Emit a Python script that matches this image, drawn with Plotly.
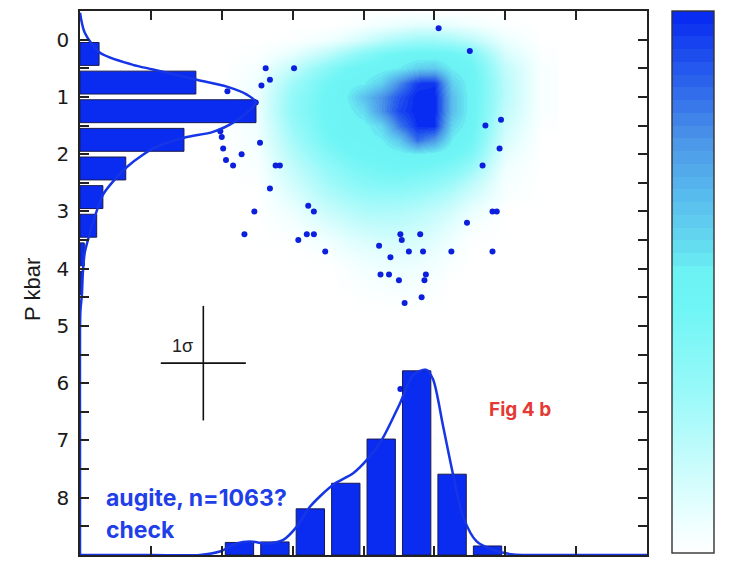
import plotly.graph_objects as go

# ---------------- data ----------------
# Outlier analyses (T in deg C, P in kbar)
pt_T = [1203, 1225, 1081, 1101, 1084, 1078, 1054, 1074, 1247, 1236, 1049, 1050,
        1077, 1051, 1246, 1064, 1053, 1058, 1088, 1091, 1234, 1084, 1111, 1115,
        1073, 1241, 1244, 1223, 1066, 1110, 1115, 1104, 1176, 1177, 1190, 1161,
        1123, 1182, 1192, 1212, 1241, 1169, 1162, 1168, 1194, 1175, 1193, 1191,
        1179, 1176, 1193]
pt_P = [-0.2, 0.2, 0.5, 0.5, 0.7, 0.8, 0.9, 1.1, 1.4, 1.5, 1.6, 1.7,
        1.8, 1.9, 1.9, 2.0, 2.1, 2.2, 2.2, 2.2, 2.2, 2.6, 2.9, 3.0,
        3.0, 3.0, 3.0, 3.2, 3.4, 3.4, 3.4, 3.5, 3.4, 3.5, 3.4, 3.6,
        3.7, 3.7, 3.7, 3.7, 3.7, 3.8, 4.1, 4.1, 4.1, 4.2, 4.2, 4.5,
        4.6, 6.1, 5.8]

# Kernel density of all analyses (normalised), grid in T and P
dens_T = [1050, 1075, 1100, 1125, 1137.5, 1150, 1162.5, 1175, 1187.5, 1200,
          1212.5, 1225, 1250, 1275]
dens_P = [-0.5, -0.25, 0.0, 0.25, 0.5, 0.75, 1.0, 1.25, 1.5, 1.75, 2.0, 2.25,
          2.5, 2.75, 3.0, 3.25, 3.5, 3.75, 4.0, 4.25, 4.5, 4.75]
dens_z = [
    [0, 0, 0, 0, 0, 0, 0, 0, 0, 0, 0, 0, 0, 0],
    [0, 0, 0, 0, 0.01, 0.03, 0.05, 0.07, 0.09, 0.09, 0.07, 0.05, 0.01, 0],
    [0, 0, 0.01, 0.05, 0.09, 0.14, 0.20, 0.25, 0.28, 0.28, 0.25, 0.20, 0.06, 0],
    [0, 0.01, 0.08, 0.20, 0.28, 0.36, 0.42, 0.46, 0.48, 0.48, 0.46, 0.40, 0.12, 0.01],
    [0, 0.03, 0.18, 0.36, 0.44, 0.48, 0.50, 0.53, 0.60, 0.62, 0.52, 0.48, 0.18, 0.02],
    [0, 0.05, 0.28, 0.45, 0.50, 0.52, 0.60, 0.78, 0.95, 0.97, 0.60, 0.50, 0.20, 0.02],
    [0, 0.06, 0.32, 0.47, 0.52, 0.64, 0.76, 0.90, 1.00, 1.00, 0.65, 0.50, 0.20, 0.02],
    [0, 0.06, 0.33, 0.47, 0.50, 0.57, 0.76, 0.93, 1.00, 1.00, 0.65, 0.50, 0.18, 0.02],
    [0, 0.05, 0.30, 0.46, 0.50, 0.50, 0.58, 0.82, 0.98, 0.98, 0.58, 0.49, 0.15, 0.01],
    [0, 0.04, 0.26, 0.44, 0.48, 0.50, 0.52, 0.62, 0.85, 0.75, 0.52, 0.46, 0.12, 0],
    [0, 0.03, 0.22, 0.38, 0.44, 0.47, 0.48, 0.50, 0.52, 0.50, 0.46, 0.40, 0.08, 0],
    [0, 0.02, 0.18, 0.32, 0.38, 0.42, 0.44, 0.45, 0.44, 0.42, 0.38, 0.30, 0.05, 0],
    [0, 0.01, 0.14, 0.27, 0.32, 0.36, 0.38, 0.38, 0.36, 0.33, 0.28, 0.20, 0.03, 0],
    [0, 0, 0.10, 0.22, 0.26, 0.29, 0.30, 0.30, 0.28, 0.25, 0.20, 0.13, 0.02, 0],
    [0, 0, 0.06, 0.16, 0.20, 0.23, 0.24, 0.23, 0.21, 0.18, 0.13, 0.07, 0, 0],
    [0, 0, 0.03, 0.10, 0.14, 0.17, 0.18, 0.18, 0.16, 0.13, 0.08, 0.03, 0, 0],
    [0, 0, 0.01, 0.05, 0.09, 0.11, 0.13, 0.13, 0.12, 0.09, 0.05, 0.01, 0, 0],
    [0, 0, 0, 0.02, 0.05, 0.07, 0.08, 0.09, 0.08, 0.06, 0.03, 0, 0, 0],
    [0, 0, 0, 0, 0.02, 0.04, 0.05, 0.06, 0.05, 0.04, 0.01, 0, 0, 0],
    [0, 0, 0, 0, 0.01, 0.02, 0.03, 0.04, 0.03, 0.02, 0, 0, 0, 0],
    [0, 0, 0, 0, 0, 0.01, 0.01, 0.02, 0.02, 0.01, 0, 0, 0, 0],
    [0, 0, 0, 0, 0, 0, 0, 0, 0, 0, 0, 0, 0, 0],
]

# Pressure histogram (0.5 kbar bins)
p_bins = [0.25, 0.75, 1.25, 1.75, 2.25, 2.75, 3.25, 3.75, 4.25, 4.75]
p_counts = [40, 243, 369, 218, 96, 48, 35, 9, 4, 1]
# Pressure KDE (scaled to counts)
p_kde_P = [-0.47, -0.12, 0.23, 0.44, 0.52, 0.70, 0.82, 0.96, 1.10, 1.45, 1.61,
           1.71, 1.87, 2.01, 2.22, 2.48, 2.71, 2.97, 3.37, 3.72, 4.07, 4.45,
           4.72, 5.07, 7.0, 9.0]
p_kde_n = [0, 10, 42, 111, 153, 245, 308, 350, 369, 321, 279,
           220, 161, 132, 99, 69, 48, 36, 21, 10, 6, 4,
           1, 0, 0, 0]

# Temperature histogram (25 deg bins)
t_bins = [1062.5, 1087.5, 1112.5, 1137.5, 1162.5, 1187.5, 1212.5, 1237.5]
t_counts = [25, 26, 92, 143, 231, 367, 161, 18]
# Temperature KDE (scaled to counts)
t_kde_T = [950, 1000, 1034.6, 1048.7, 1060.5, 1069.9, 1081.7, 1093.4, 1102.8, 1112.2,
           1128.6, 1142.7, 1152.2, 1162.8, 1175.7, 1185.1, 1194.5, 1199.2,
           1206.2, 1213.3, 1220.3, 1229.8, 1241.5, 1255.6, 1269.5, 1310, 1350]
t_kde_n = [0, 0, 0, 7, 23, 27, 23, 30, 56, 96,
           140, 163, 189, 229, 302, 359, 369, 349,
           256, 159, 76, 27, 10, 1, 0, 0, 0]

# 1 sigma uncertainty
sig_T, sig_P = 1037, 5.65
sig_dT, sig_dP = 30, 1.0

# ---------------- styling ----------------
BLUE = "#0A2CF0"
LINE_BLUE = "#1535E6"
DOT_BLUE = "#0B1FDD"
AX = "#222222"


def _mix(c1, c2, t):
    a = [int(c1[i:i + 2], 16) for i in (1, 3, 5)]
    b = [int(c2[i:i + 2], 16) for i in (1, 3, 5)]
    return "#" + "".join(f"{round(x + (y - x) * t):02X}" for x, y in zip(a, b))


# smooth white -> cyan lower half, finely stepped cyan -> blue upper half
colorscale = [
    [0.0, "#FFFFFF"], [0.05, "#F0FFFF"], [0.15, "#CDFCFC"], [0.30, "#98F9F9"],
    [0.45, "#70F5F5"], [0.53, "#6CF2F4"],
]
n_steps = 20
lo_c, mid_c, hi_c = "#6AEAF3", "#4A94E8", "#0626F2"
for k in range(n_steps):
    lo = 0.53 + (1.0 - 0.53) * k / n_steps
    hi = 0.53 + (1.0 - 0.53) * (k + 1) / n_steps
    t = (k + 0.5) / n_steps
    col = _mix(lo_c, mid_c, t / 0.5) if t < 0.5 else _mix(mid_c, hi_c, (t - 0.5) / 0.5)
    colorscale.append([lo, col])
    colorscale.append([hi, col])

fig = go.Figure()

fig.add_trace(go.Heatmap(
    x=dens_T, y=dens_P, z=dens_z, zmin=0, zmax=1, zsmooth="best",
    colorscale=colorscale, hoverinfo="skip",
    colorbar=dict(x=1.0441, xanchor="left", xpad=0, ypad=0,
                  y=1, yanchor="top", lenmode="pixels", len=542,
                  thickness=42, outlinewidth=1.4, outlinecolor="#333",
                  showticklabels=False, ticks=""),
))

fig.add_trace(go.Scatter(
    x=pt_T, y=pt_P, mode="markers",
    marker=dict(size=6, color=DOT_BLUE), hoverinfo="skip",
))

fig.add_trace(go.Scatter(
    x=[sig_T], y=[sig_P], mode="markers",
    marker=dict(size=1, color="rgba(0,0,0,0)"),
    error_x=dict(type="constant", value=sig_dT, width=0, thickness=1.6, color="#111"),
    error_y=dict(type="constant", value=sig_dP, width=0, thickness=1.6, color="#111"),
    hoverinfo="skip",
))

# marginal pressure histogram
fig.add_trace(go.Bar(
    y=p_bins, x=p_counts, orientation="h", width=0.4,
    marker=dict(color=BLUE, line=dict(color="#1a1a50", width=1)),
    xaxis="x2", yaxis="y", hoverinfo="skip",
))
fig.add_trace(go.Scatter(
    x=p_kde_n, y=p_kde_P, mode="lines",
    line=dict(color=LINE_BLUE, width=2.5, shape="spline", smoothing=0.8),
    xaxis="x2", yaxis="y", hoverinfo="skip",
))

# marginal temperature histogram
fig.add_trace(go.Bar(
    x=t_bins, y=t_counts, width=20,
    marker=dict(color=BLUE, line=dict(color="#1a1a50", width=1)),
    xaxis="x", yaxis="y2", hoverinfo="skip",
))
fig.add_trace(go.Scatter(
    x=t_kde_T, y=t_kde_n, mode="lines",
    line=dict(color=LINE_BLUE, width=2.5, shape="spline", smoothing=0.8),
    xaxis="x", yaxis="y2", hoverinfo="skip",
))

axis_common = dict(
    showline=True, linecolor=AX, linewidth=1.5, mirror="allticks",
    ticks="inside", tickcolor=AX, tickwidth=1.5, ticklen=9,
    showgrid=False, zeroline=False,
)

fig.update_layout(
    width=741, height=561,
    margin=dict(l=80, r=94, t=11, b=6),
    paper_bgcolor="white", plot_bgcolor="white",
    showlegend=False,
    xaxis=dict(range=[950, 1350], tick0=1000, dtick=100, showticklabels=False,
               minor=dict(ticks="inside", dtick=50, ticklen=4, tickcolor=AX, tickwidth=1.5),
               **axis_common),
    yaxis=dict(range=[9, -0.5], tick0=0, dtick=1,
               tickfont=dict(family="DejaVu Sans", size=20, color="#1a1a1a"),
               ticklabelstandoff=5,
               minor=dict(ticks="inside", dtick=0.5, ticklen=5, tickcolor=AX, tickwidth=1.5),
               **axis_common),
    xaxis2=dict(overlaying="x", anchor="y", range=[0, 1189], visible=False),
    yaxis2=dict(overlaying="y", anchor="x", range=[0, 1084], visible=False),
    annotations=[
        dict(text="P kbar", xref="paper", yref="paper", x=-0.0829, y=0.489,
             xanchor="center", yanchor="middle", textangle=-90, showarrow=False,
             font=dict(family="Liberation Sans", size=22, color="#1a1a1a")),
        dict(text="1σ", xref="paper", yref="paper", x=0.18, y=0.384,
             xanchor="center", yanchor="middle", showarrow=False,
             font=dict(family="Liberation Sans", size=18, color="#222")),
        dict(text="<b>Fig 4 b</b>", xref="paper", yref="paper", x=0.776, y=0.268,
             xanchor="center", yanchor="middle", showarrow=False,
             font=dict(family="Inter", size=19, color="#E53935")),
        dict(text="<b>augite, n=1063?</b>", xref="paper", yref="paper",
             x=0.0423, y=0.1039, xanchor="left", yanchor="middle", showarrow=False,
             font=dict(family="Inter", size=23, color="#1F3FE8")),
        dict(text="<b>check</b>", xref="paper", yref="paper",
             x=0.0423, y=0.046, xanchor="left", yanchor="middle", showarrow=False,
             font=dict(family="Inter", size=23, color="#1F3FE8")),
    ],
)

fig.write_html("out.html")
